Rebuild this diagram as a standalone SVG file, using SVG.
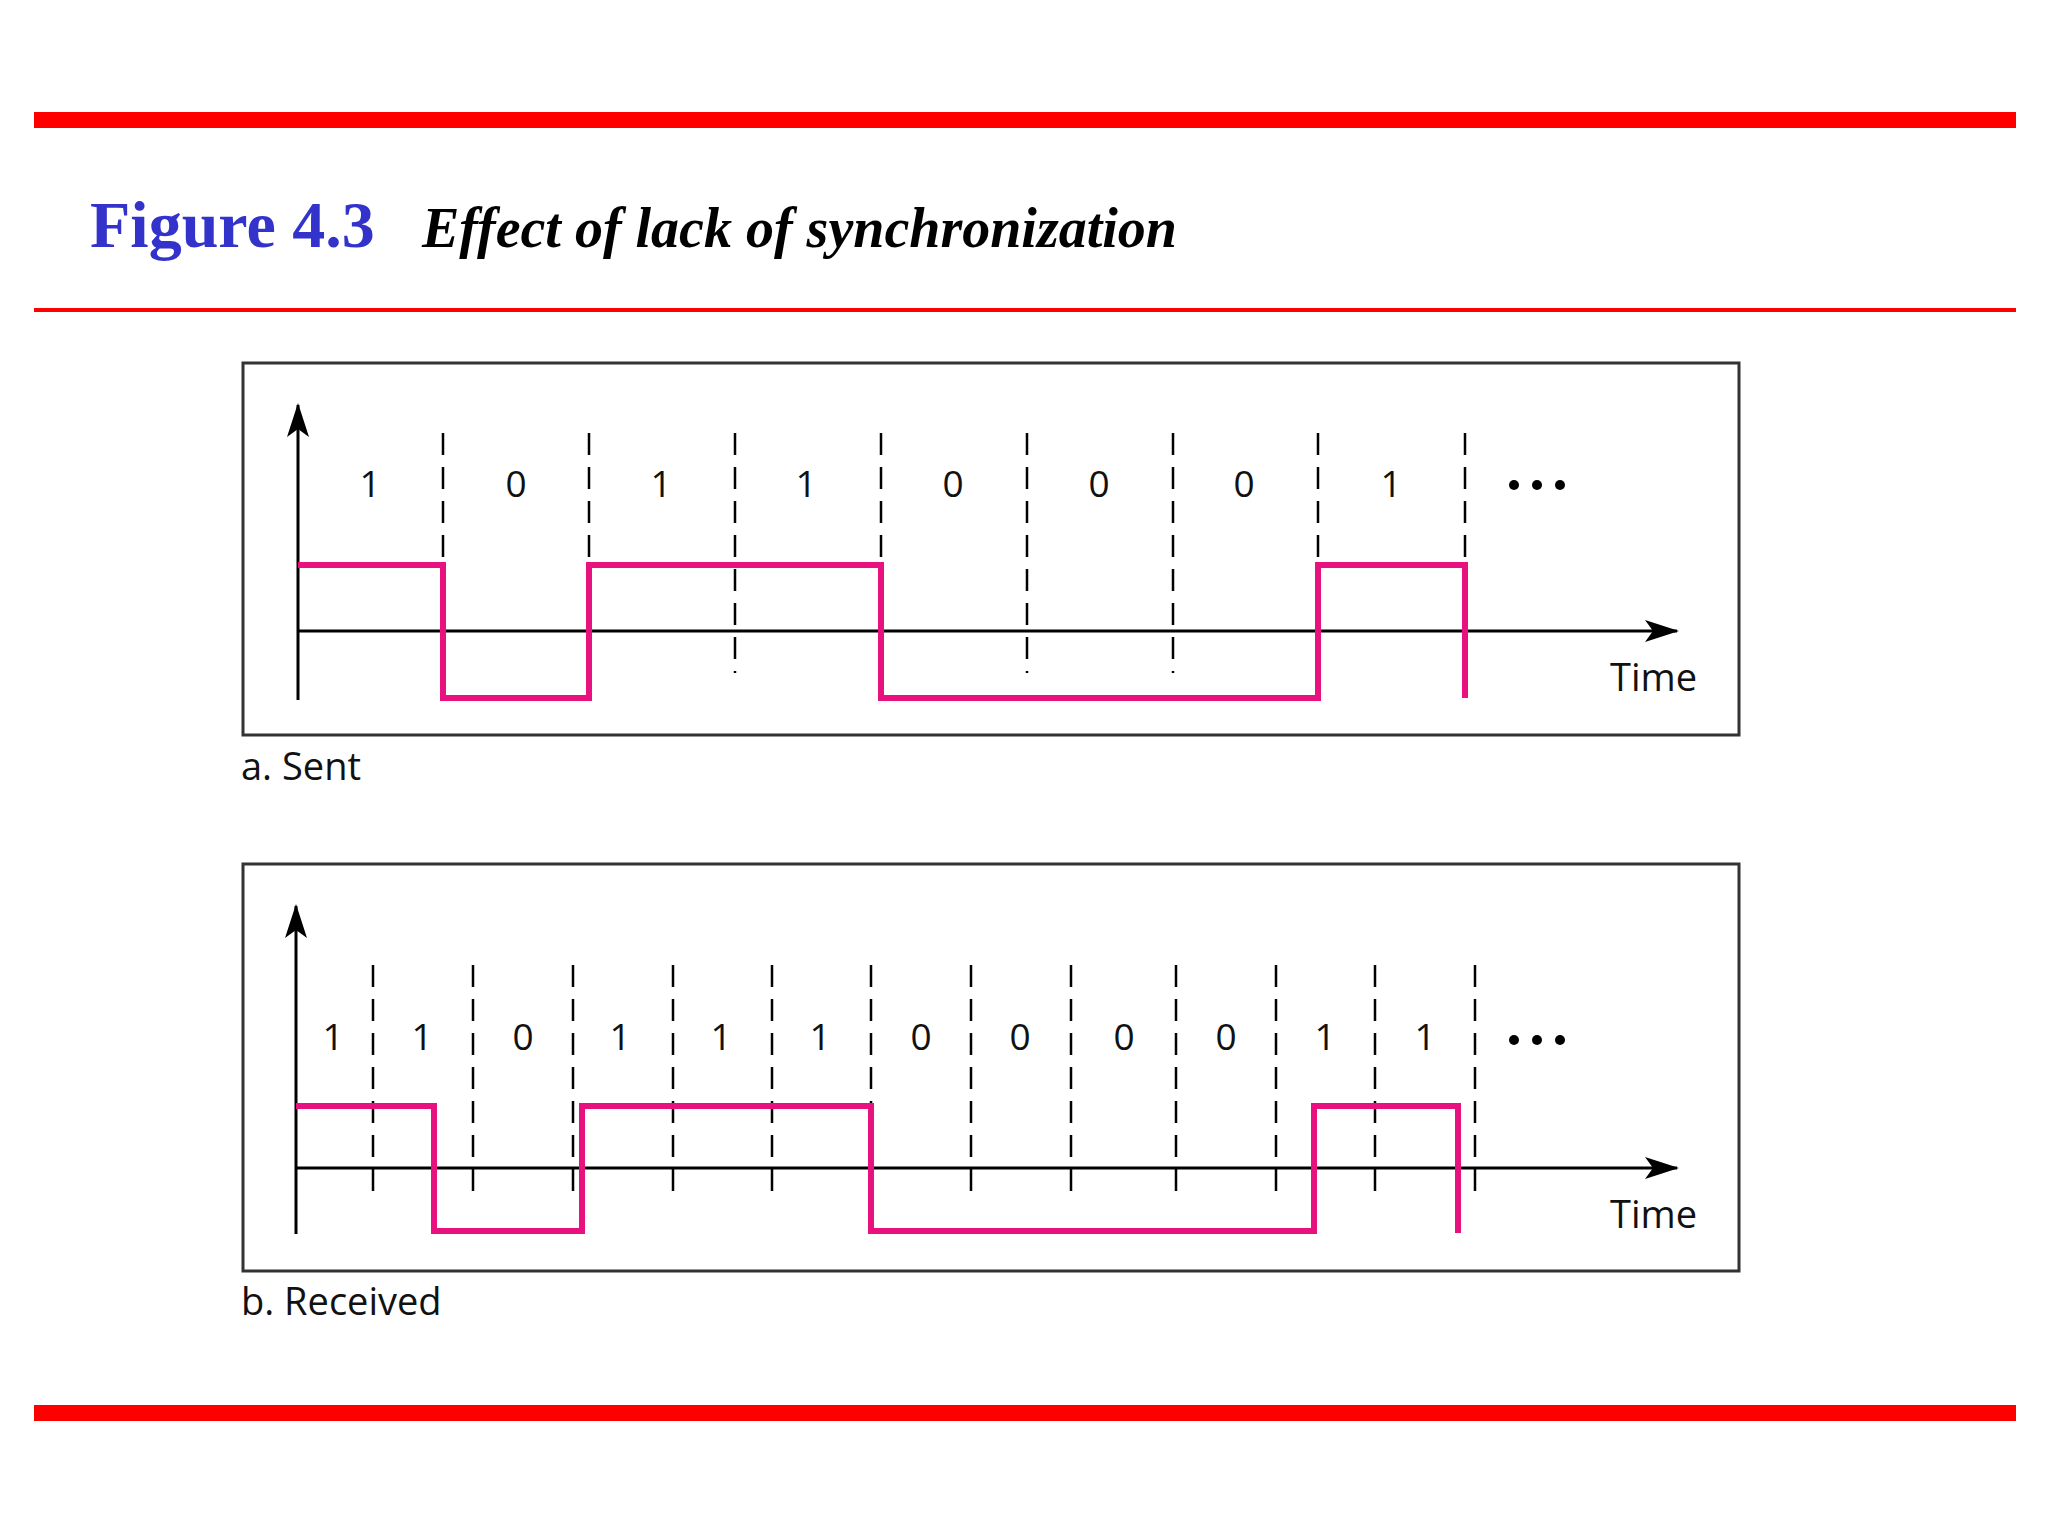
<svg xmlns="http://www.w3.org/2000/svg" width="2048" height="1536" viewBox="0 0 2048 1536">
<defs>
<style>
.box{fill:#fff;stroke:#333;stroke-width:3}
.ax{stroke:#000;stroke-width:3;fill:none}
.dash{stroke:#000;stroke-width:2.5;stroke-dasharray:22,12;fill:none}
.sig{stroke:#e8117f;stroke-width:6;fill:none;stroke-linejoin:miter}
.lbl{font-family:"Open Sans","Liberation Sans",sans-serif;font-size:37px;fill:#111;text-anchor:middle}
.cap{font-family:"Open Sans","Liberation Sans",sans-serif;font-size:38px;fill:#111}
</style>
<marker id="ar" viewBox="0 0 34 22" refX="32" refY="11" markerWidth="34" markerHeight="22" markerUnits="userSpaceOnUse" orient="auto"><path d="M0,0 L34,11 L0,22 L8,11 Z" fill="#000"/></marker>
</defs>
<rect width="2048" height="1536" fill="#fff"/>
<rect x="34" y="112" width="1982" height="16" fill="#ff0000"/>
<rect x="34" y="308" width="1982" height="4" fill="#ff0000"/>
<rect x="34" y="1405" width="1982" height="16" fill="#ff0000"/>
<text x="90" y="247" font-family="Liberation Serif,serif" font-weight="bold" font-size="66" fill="#3333cc">Figure 4.3</text>
<text x="422" y="247" font-family="Liberation Serif,serif" font-weight="bold" font-style="italic" font-size="56" fill="#000">Effect of lack of synchronization</text>
<g id="sent">
<rect class="box" x="243" y="363" width="1496" height="372"/>
<line class="ax" x1="298" y1="700" x2="298" y2="405" marker-end="url(#ar)"/>
<line class="ax" x1="298" y1="631" x2="1677" y2="631" marker-end="url(#ar)"/>
<g class="dash"><path d="M443,433V673M589,433V673M735,433V673M881,433V673M1027,433V673M1173,433V673M1318,433V673M1465,433V673"/></g>
<path class="sig" d="M298,565H443V698H589V565H881V698H1318V565H1465V698"/>
<g class="lbl"><text x="370" y="497">1</text><text x="516" y="497">0</text><text x="661" y="497">1</text><text x="806" y="497">1</text><text x="953" y="497">0</text><text x="1099" y="497">0</text><text x="1244" y="497">0</text><text x="1391" y="497">1</text></g>
<g fill="#000"><circle cx="1514" cy="485" r="5"/><circle cx="1537" cy="485" r="5"/><circle cx="1560" cy="485" r="5"/></g>
<text class="cap" x="1610" y="691">Time</text>
<text class="cap" x="241" y="780">a. Sent</text>
</g>
<g id="received">
<rect class="box" x="243" y="864" width="1496" height="407"/>
<line class="ax" x1="296" y1="1234" x2="296" y2="906" marker-end="url(#ar)"/>
<line class="ax" x1="296" y1="1168" x2="1677" y2="1168" marker-end="url(#ar)"/>
<g class="dash"><path d="M373,965V1203M473,965V1203M573,965V1203M673,965V1203M772,965V1203M871,965V1203M971,965V1203M1071,965V1203M1176,965V1203M1276,965V1203M1375,965V1203M1475,965V1203"/></g>
<path class="sig" d="M296,1106H434V1231H582V1106H871V1231H1314V1106H1458V1233"/>
<g class="lbl"><text x="333" y="1050">1</text><text x="422" y="1050">1</text><text x="523" y="1050">0</text><text x="620" y="1050">1</text><text x="721" y="1050">1</text><text x="820" y="1050">1</text><text x="921" y="1050">0</text><text x="1020" y="1050">0</text><text x="1124" y="1050">0</text><text x="1226" y="1050">0</text><text x="1325" y="1050">1</text><text x="1425" y="1050">1</text></g>
<g fill="#000"><circle cx="1514" cy="1040" r="5"/><circle cx="1537" cy="1040" r="5"/><circle cx="1560" cy="1040" r="5"/></g>
<text class="cap" x="1610" y="1228">Time</text>
<text class="cap" x="241" y="1315">b. Received</text>
</g>
</svg>
